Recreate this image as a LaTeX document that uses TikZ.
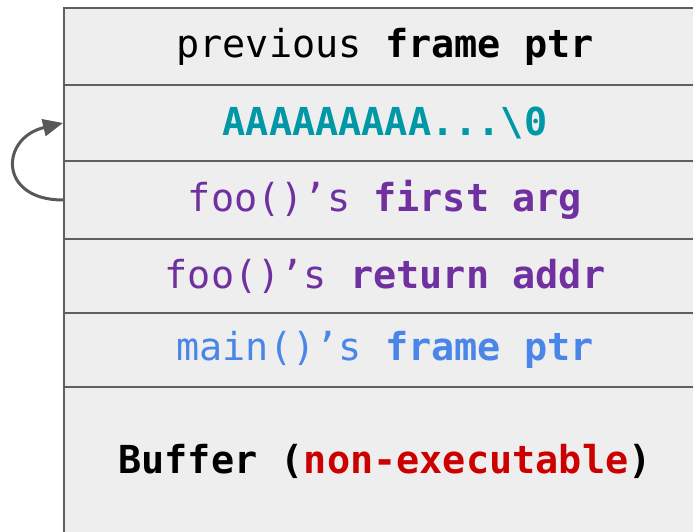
\documentclass[tikz,border=0pt]{standalone}
\usepackage{fontspec}
\setmonofont{DejaVu Sans Mono}
\usetikzlibrary{arrows.meta}
\definecolor{cellfill}{HTML}{EEEEEE}
\definecolor{cellline}{HTML}{5F5F5F}
\definecolor{teal}{HTML}{0097A7}
\definecolor{purp}{HTML}{7030A0}
\definecolor{blu}{HTML}{4A86E8}
\definecolor{redd}{HTML}{CC0000}
\definecolor{arrowgray}{HTML}{595959}
\tikzset{
  cell/.style={draw=cellline, fill=cellfill, line width=2bp, minimum width=642bp, inner sep=0pt, anchor=north west,
    font=\fontsize{38.5bp}{40bp}\selectfont\ttfamily},
  loopline/.style={draw=arrowgray, line width=3bp, -{Triangle[length=20bp,width=17bp]}}
}
\begin{document}
\begin{tikzpicture}[x=1bp,y=-1bp]
\useasboundingbox[fill=white] (0,0) rectangle (693,532);
\node[cell, minimum height=77bp] (r1) at (63,7) {previous \textbf{frame ptr}};
\node[cell, minimum height=76bp, text=teal] (r2) at (63,84) {\textbf{AAAAAAAAA...\textbackslash0}};
\node[cell, minimum height=78bp, text=purp] (r3) at (63,160) {foo()’s \textbf{first arg}};
\node[cell, minimum height=74bp, text=purp] (r4) at (63,238) {foo()’s \textbf{return addr}};
\node[cell, minimum height=74bp, text=blu] (r5) at (63,312) {main()’s \textbf{frame ptr}};
\node[cell, minimum height=148bp] (r6) at (63,386) {\textbf{Buffer (\textcolor{redd}{non-executable})}};
\draw[loopline] (r3.west) .. controls (-2,200) and (0,138) .. (r2.west);
\end{tikzpicture}
\end{document}
